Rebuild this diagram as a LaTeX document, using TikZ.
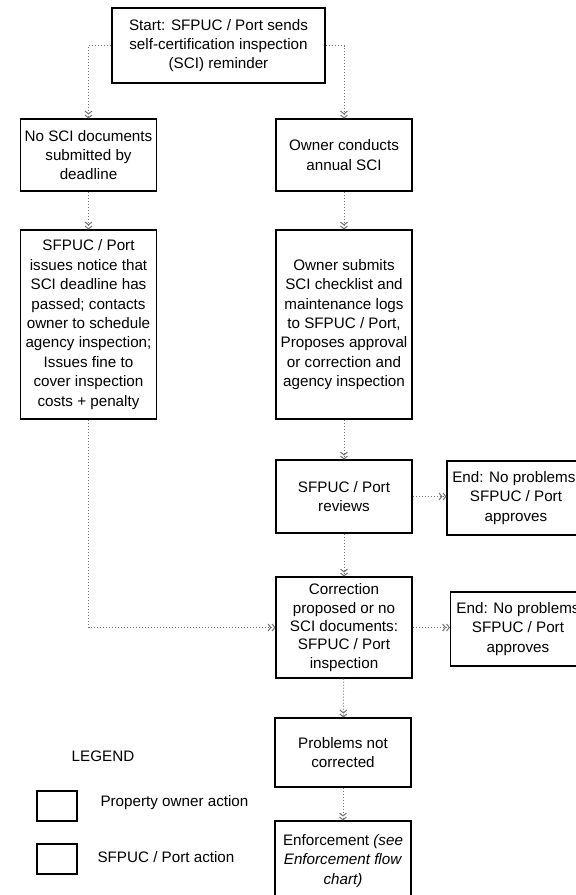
\documentclass[tikz,border=0pt]{standalone}
\usepackage{fontspec}
\setmainfont{Liberation Sans}
\usepackage{tikz}
\usetikzlibrary{arrows.meta}
\newcommand{\corA}{black}
\newcommand{\corB}{black!55}

\begin{document}
\begin{tikzpicture}[x=1pt, y=-1pt,
    caixa/.style={draw=\corA, line width=1.1pt, align=center, inner sep=2pt,
      minimum width=136, font=\fontsize{15.2}{19.4}\selectfont},
    seta/.style={draw=\corB, dotted, line width=1pt,
      -{Straight Barb[length=2.8pt,width=7pt] Straight Barb[length=2.8pt,width=7pt]}},
    legenda/.style={font=\fontsize{15.2}{19.4}\selectfont}]
        \useasboundingbox (0,0) rectangle (576,895);

          % coluna esquerda
        \node[caixa, minimum width=213, minimum height=75] (start) at (218.5,45.5)
          {Start: SFPUC / Port sends\\self-certification inspection\\(SCI) reminder};
        \node[caixa, minimum height=72] (nosci) at (88.5,155)
          {No SCI documents\\submitted by\\deadline};
        \node[caixa, minimum height=189] (notice) at (88.5,324.5)
          {SFPUC / Port\\issues notice that\\SCI deadline has\\passed; contacts\\owner to schedule\\agency inspection;\\Issues fine to\\cover inspection\\costs + penalty};

          % coluna direita
        \node[caixa, minimum height=72] (conducts) at (344,155)
          {Owner conducts\\annual SCI};
        \node[caixa, minimum height=189] (submits) at (344,324.5)
          {Owner submits\\SCI checklist and\\maintenance logs\\to SFPUC / Port,\\Proposes approval\\or correction and\\agency inspection};
        \node[caixa, minimum height=73] (reviews) at (344,496.5)
          {SFPUC / Port\\reviews};
        \node[caixa, minimum width=138, minimum height=74] (endA) at (516,498)
          {End: No problems,\\SFPUC / Port\\approves};
        \node[caixa, minimum height=101,
          font=\fontsize{15.2}{18.4}\selectfont] (correction) at (344,627.5)
          {Correction\\proposed or no\\SCI documents:\\SFPUC / Port\\inspection};
        \node[caixa, minimum width=135, minimum height=74] (endB) at (518,629)
          {End: No problems\\SFPUC / Port\\approves};
        \node[caixa, minimum height=69] (problems) at (343,752.5)
          {Problems not\\corrected};
        \node[caixa, minimum height=80] (enforce) at (343,861)
          {Enforcement \textit{(see}\\\textit{Enforcement flow}\\\textit{chart)}};

          % legenda
        \node[legenda] (legend) at (103,756) {LEGEND};
        \node[draw=\corA, line width=1.1pt, minimum width=40, minimum height=30] (legA) at (57,806) {};
        \node[legenda, anchor=west] (legAtxt) at (97,803) {Property owner action};
        \node[draw=\corA, line width=1.1pt, minimum width=40, minimum height=30] (legB) at (57,859) {};
        \node[legenda, anchor=west] (legBtxt) at (94,857) {SFPUC / Port action};

          % setas
        \draw[seta] (start.west) -| (nosci.north);
        \draw[seta] (start.east) -| (conducts.north);
        \draw[seta] (nosci) -- (notice);
        \draw[seta] (conducts) -- (submits);
        \draw[seta] (submits) -- (reviews);
        \draw[seta] (reviews.east) -- (reviews.east -| endA.west);
        \draw[seta] (reviews) -- (correction);
        \draw[seta] (notice.south) |- (correction.west);
        \draw[seta] (correction.east) -- (correction.east -| endB.west);
        \draw[seta] (correction) -- (problems);
        \draw[seta] (problems) -- (enforce);

    \end{tikzpicture}
\end{document}
